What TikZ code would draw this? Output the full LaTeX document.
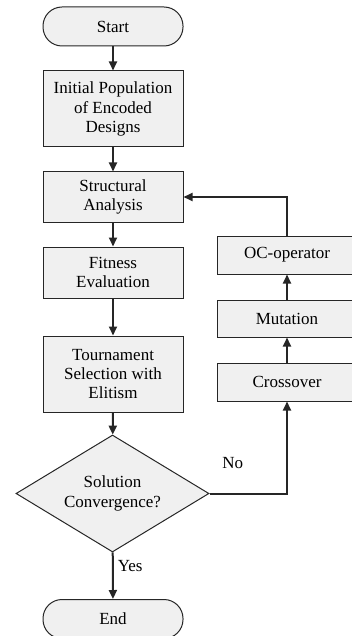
\documentclass[tikz,border=0pt]{standalone}
\usepackage{fontspec}
\setmainfont{Liberation Serif}
\usetikzlibrary{shapes.geometric,arrows.meta}
\definecolor{boxfill}{HTML}{F0F0F0}
\definecolor{boxline}{HTML}{262626}
\begin{document}
\begin{tikzpicture}[x=1pt, y=-1pt,
	procbox/.style={draw=boxline, fill=boxfill, line width=1pt, rectangle, minimum width=140pt, align=center, inner sep=0pt, font=\fontsize{17}{19.3}\selectfont},
	termbox/.style={procbox, rounded corners=19pt, minimum height=39pt},
	decbox/.style={procbox, diamond, aspect=1.65, minimum width=193pt, minimum height=117pt},
	flow/.style={draw=boxline, line width=2pt, -{Triangle[length=9pt,width=8pt]}},
	lbl/.style={font=\fontsize{17}{19.3}\selectfont, inner sep=0pt}]
	\useasboundingbox (0, 0) rectangle (352, 636);
			\node[termbox] at (113, 26.5) (start) {Start};
			\node[procbox, minimum height=76pt] at (113, 109) (init) {Initial Population\\of Encoded\\Designs};
			\node[procbox, minimum height=50pt] at (113, 197) (struct) {Structural\\Analysis};
			\node[procbox, minimum height=51pt] at (113, 272.5) (fit) {Fitness\\Evaluation};
			\node[procbox, minimum height=76pt] at (113, 374) (tour) {Tournament\\Selection with\\Elitism};
			\node[decbox] at (112.5, 493.5) (conv) {Solution\\Convergence?};
			\node[termbox] at (113, 619) (end) {End};

			\node[procbox, minimum height=38pt] at (287, 255) (oc) {OC-operator};
			\node[procbox, minimum height=37pt] at (287, 318.5) (mut) {Mutation};
			\node[procbox, minimum height=38pt] at (287, 382) (cross) {Crossover};

			\path
			(start) edge[flow] (init)
			(init) edge[flow] (struct)
			(struct) edge[flow] (fit)
			(fit) edge[flow] (tour)
			(tour) edge[flow] (conv)
			(conv) edge[flow] node[lbl, right, xshift=4pt, pos=0.3] {Yes} (end)
			(cross) edge[flow] (mut)
			(mut) edge[flow] (oc);
			\draw[flow] (conv.east) -| node[lbl, pos=0.15, above, yshift=24pt] {No} (cross.south);
			\draw[flow] (oc.north) |- (struct.east);
		\end{tikzpicture}
\end{document}
